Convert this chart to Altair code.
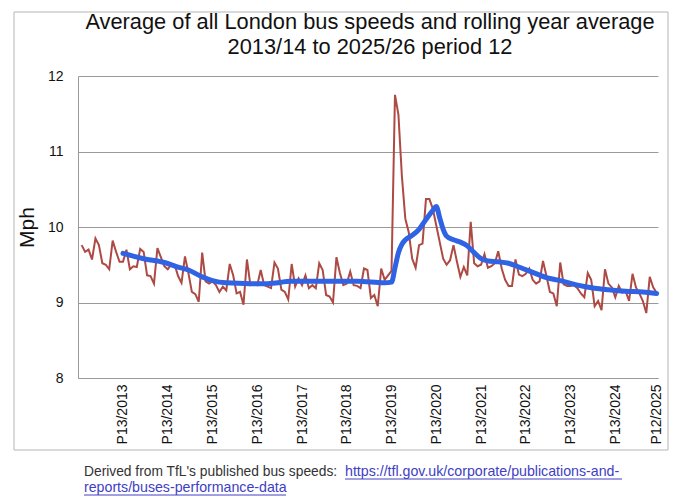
import altair as alt
import pandas as pd

# Period-by-period average bus speed (mph), P1/2013-14 ... P12/2025-26
red_speed = [
    9.76, 9.67, 9.70, 9.57, 9.85, 9.76, 9.52, 9.50, 9.44, 9.82, 9.67, 9.54, 9.54,
    9.70, 9.44, 9.48, 9.47, 9.71, 9.67, 9.36, 9.35, 9.25, 9.72, 9.60, 9.48, 9.44,
    9.50, 9.50, 9.35, 9.26, 9.61, 9.39, 9.14, 9.11, 9.01, 9.66, 9.28, 9.25, 9.28,
    9.23, 9.14, 9.21, 9.16, 9.51, 9.36, 9.12, 9.14, 8.97, 9.57, 9.23, 9.25, 9.23,
    9.43, 9.23, 9.21, 9.19, 9.53, 9.45, 9.17, 9.14, 9.04, 9.51, 9.21, 9.32, 9.23,
    9.36, 9.19, 9.23, 9.19, 9.52, 9.43, 9.10, 9.08, 9.00, 9.60, 9.39, 9.23, 9.25,
    9.41, 9.23, 9.22, 9.19, 9.45, 9.43, 9.06, 9.10, 8.95, 9.45, 9.30, 9.36, 9.42,
    11.75, 11.49, 10.68, 10.11, 9.93, 9.58, 9.46, 9.76, 9.78, 10.37, 10.37, 10.24, 10.02,
    9.80, 9.58, 9.50, 9.56, 9.76, 9.54, 9.34, 9.47, 9.36, 10.07, 9.52, 9.48, 9.50,
    9.64, 9.46, 9.48, 9.52, 9.68, 9.45, 9.30, 9.22, 9.22, 9.57, 9.37, 9.35, 9.38,
    9.45, 9.30, 9.25, 9.28, 9.55, 9.35, 9.14, 9.12, 8.95, 9.53, 9.24, 9.22, 9.22,
    9.23, 9.19, 9.12, 9.07, 9.39, 9.30, 8.95, 9.02, 8.90, 9.44, 9.25, 9.20, 9.07,
    9.22, 9.13, 9.15, 9.02, 9.38, 9.20, 9.12, 9.02, 8.86, 9.34, 9.20, 9.13,
]

# Rolling year average read at points along the blue line
blue_index = [12, 18, 24, 28, 31, 35, 38, 42, 49, 54, 61, 70, 80, 88, 90, 91, 92, 93,
              94, 96, 98, 100, 102, 103, 104, 105, 106, 108, 110, 112, 114, 116, 118,
              121, 124, 127, 131, 135, 139, 144, 149, 153, 158, 163, 167]
blue_speed = [9.65, 9.58, 9.53, 9.47, 9.43, 9.34, 9.29, 9.26, 9.25, 9.25, 9.28, 9.28,
              9.28, 9.26, 9.27, 9.46, 9.66, 9.77, 9.83, 9.89, 9.97, 10.10, 10.22, 10.27,
              10.12, 9.97, 9.88, 9.83, 9.80, 9.75, 9.66, 9.58, 9.55, 9.54, 9.52, 9.47,
              9.40, 9.33, 9.29, 9.23, 9.19, 9.17, 9.15, 9.14, 9.12]

tick_positions = [12, 25, 38, 51, 64, 77, 90, 103, 116, 129, 142, 155, 167]
tick_labels = ["P13/2013", "P13/2014", "P13/2015", "P13/2016", "P13/2017", "P13/2018",
               "P13/2019", "P13/2020", "P13/2021", "P13/2022", "P13/2023", "P13/2024",
               "P12/2025"]
y_ticks = [8, 9, 10, 11, 12]

title_line1 = "Average of all London bus speeds and rolling year average"
title_line2 = "2013/14 to 2025/26 period 12"
footer_text = "Derived from TfL's published bus speeds:"
link_line1 = "https://tfl.gov.uk/corporate/publications-and-"
link_line2 = "reports/buses-performance-data"

FONT = "Liberation Sans"
RED = "#ad4a43"
BLUE = "#2f63e4"
LINK = "#4040c4"

red_df = pd.DataFrame({"period": list(range(len(red_speed))), "mph": red_speed})
blue_df = pd.DataFrame({"period": blue_index, "mph": blue_speed})
one = pd.DataFrame({"k": [0]})

x_scale = alt.Scale(domain=[-1.07, 167.4], nice=False, zero=False)
y_scale = alt.Scale(domain=[8, 12], nice=False, zero=False)

label_expr = ("[" + ",".join("'" + s + "'" for s in tick_labels) + "][indexof(["
              + ",".join(str(p) for p in tick_positions) + "], datum.value)]")

x_axis = alt.Axis(values=tick_positions, labelExpr=label_expr, labelAngle=270,
                  labelFontSize=14, labelFont=FONT, labelColor="#111", labelPadding=6,
                  ticks=False, grid=False, domainColor="#9a9a9a", title=None,
                  labelOverlap=False, labelFlush=False, labelBound=False)
y_axis = alt.Axis(values=y_ticks, format="d", labelFontSize=14, labelFont=FONT,
                  labelColor="#111", labelPadding=15, ticks=False, grid=True,
                  gridColor="#9a9a9a", gridWidth=1, domainColor="#9a9a9a",
                  title="Mph", titleFont=FONT, titleFontSize=21, titleFontWeight="normal",
                  titleColor="#111", titleX=-51, titleY=151, titleAngle=270,
                  titleAlign="center", titleBaseline="middle")

red = alt.Chart(red_df).mark_line(color=RED, strokeWidth=2).encode(
    x=alt.X("period:Q", scale=x_scale, axis=x_axis),
    y=alt.Y("mph:Q", scale=y_scale, axis=y_axis),
)
blue = alt.Chart(blue_df).mark_line(color=BLUE, strokeWidth=5, interpolate="monotone",
                                     strokeCap="round", strokeJoin="round").encode(
    x=alt.X("period:Q", scale=x_scale, axis=x_axis),
    y=alt.Y("mph:Q", scale=y_scale, axis=y_axis),
)

border = alt.Chart(one).mark_rect(filled=False, stroke="#b5b5b5", strokeWidth=1).encode(
    x=alt.value(-64), x2=alt.value(590), y=alt.value(-64), y2=alt.value(374))

t1 = alt.Chart(one).mark_text(text=title_line1, align="center", baseline="middle",
                              font=FONT, fontSize=21.8, color="#111").encode(
    x=alt.value(292), y=alt.value(-54))
t2 = alt.Chart(one).mark_text(text=title_line2, align="center", baseline="middle",
                              font=FONT, fontSize=21.8, color="#111").encode(
    x=alt.value(292), y=alt.value(-29))

foot1 = alt.Chart(one).mark_text(text=footer_text, align="left", baseline="middle",
                                 font=FONT, fontSize=13.8, color="#333").encode(
    x=alt.value(6), y=alt.value(396))
foot2 = alt.Chart(one).mark_text(text=link_line1, align="left", baseline="middle",
                                 font=FONT, fontSize=14.2, color=LINK).encode(
    x=alt.value(267), y=alt.value(396))
foot3 = alt.Chart(one).mark_text(text=link_line2, align="left", baseline="middle",
                                 font=FONT, fontSize=14.2, color=LINK).encode(
    x=alt.value(6), y=alt.value(412))
ul1 = alt.Chart(one).mark_rule(color=LINK, strokeWidth=1).encode(
    x=alt.value(267), x2=alt.value(544), y=alt.value(403))
ul2 = alt.Chart(one).mark_rule(color=LINK, strokeWidth=1).encode(
    x=alt.value(6), x2=alt.value(208), y=alt.value(419))

chart = alt.layer(border, red, blue, t1, t2, foot1, foot2, foot3, ul1, ul2).properties(
    width=580,
    height=302,
    padding={"left": 70, "top": 68, "right": 14, "bottom": 118},
    autosize="none",
).configure_view(stroke=None)

chart.save("out.html", embed_options={"renderer": "svg", "actions": False})
